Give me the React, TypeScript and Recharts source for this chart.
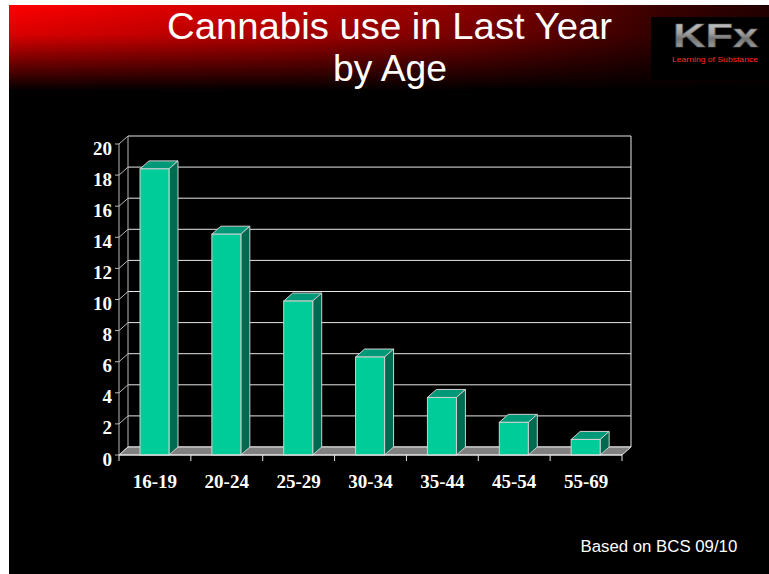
import React from 'react';
import { BarChart, Bar, XAxis, YAxis, CartesianGrid, ReferenceArea } from 'recharts';

const categories = ['16-19', '20-24', '25-29', '30-34', '35-44', '45-54', '55-69'];
const usage = [18.4, 14.2, 9.9, 6.3, 3.7, 2.1, 1.0];
const yTicks = [0, 2, 4, 6, 8, 10, 12, 14, 16, 18, 20];
const titleLine1 = 'Cannabis use in Last Year';
const titleLine2 = 'by Age';
const footnote = 'Based on BCS 09/10';

const data = categories.map((c, i) => ({ age: c, value: usage[i] }));

const DX = 9;
const DY = 8;
const FRONT = '#00CC99';
const TOP = '#009977';
const SIDE = '#006A50';
const EDGE = '#d0d0d0';
const GRID = '#e6e6e6';
const WALL = '#b8b8b8';
const SERIF = '"Liberation Serif", "Times New Roman", serif';
const SANS = '"Liberation Sans", Arial, sans-serif';

const Bar3D = (props: any) => {
  const { x, y, width: w, height: h } = props;
  if (h == null || w == null) return null;
  return (
    <g>
      <polygon
        points={`${x},${y} ${x + DX},${y - DY} ${x + w + DX},${y - DY} ${x + w},${y}`}
        fill={TOP}
        stroke={EDGE}
        strokeWidth={1}
      />
      <polygon
        points={`${x + w},${y} ${x + w + DX},${y - DY} ${x + w + DX},${y + h - DY} ${x + w},${y + h}`}
        fill={SIDE}
        stroke={EDGE}
        strokeWidth={1}
      />
      <rect x={x} y={y} width={w} height={h} fill={FRONT} stroke={EDGE} strokeWidth={1} />
    </g>
  );
};

const Walls = (props: any) => {
  const { x, y, width: w, height: h } = props;
  const b = y + h;
  return (
    <g>
      <line x1={x + DX} y1={y - DY} x2={x + DX} y2={b - DY} stroke={WALL} strokeWidth={1} />
      <line x1={x + w + DX} y1={y - DY} x2={x + w + DX} y2={b - DY} stroke={GRID} strokeWidth={1} />
      <polygon
        points={`${x},${b} ${x + w},${b} ${x + w + DX},${b - DY} ${x + DX},${b - DY}`}
        fill="#808080"
        stroke={GRID}
        strokeWidth={1}
      />
    </g>
  );
};

const GridLine = (props: any) => {
  const { x1, x2, y1 } = props;
  return (
    <g>
      <line x1={x1} y1={y1} x2={x1 + DX} y2={y1 - DY} stroke={WALL} strokeWidth={1} />
      <line x1={x1 + DX} y1={y1 - DY} x2={x2 + DX} y2={y1 - DY} stroke={GRID} strokeWidth={1} />
    </g>
  );
};

const XTick = (props: any) => {
  const { x, y, payload, index } = props;
  const half = payload && payload.offset ? payload.offset : 36;
  const last = index === categories.length - 1;
  return (
    <g>
      <line x1={x - half} y1={y} x2={x - half} y2={y + 6} stroke={GRID} strokeWidth={1} />
      {last && <line x1={x + half} y1={y} x2={x + half} y2={y + 6} stroke={GRID} strokeWidth={1} />}
      <text
        x={x}
        y={y + 33}
        textAnchor="middle"
        fill="#ffffff"
        fontFamily={SERIF}
        fontWeight={700}
        fontSize={19}
      >
        {payload.value}
      </text>
    </g>
  );
};

const YTick = (props: any) => {
  const { x, y, payload } = props;
  return (
    <text
      x={x}
      y={y + 10.5}
      textAnchor="end"
      fill="#ffffff"
      fontFamily={SERIF}
      fontWeight={700}
      fontSize={19}
    >
      {payload.value}
    </text>
  );
};

export default function App() {
  return (
    <div
      style={{
        position: 'absolute',
        left: 9,
        top: 5,
        width: 760,
        height: 569,
        background: '#000',
        overflow: 'hidden',
      }}
    >
      <div
        style={{
          position: 'absolute',
          left: 0,
          top: 0,
          width: 760,
          height: 86,
          background:
            'linear-gradient(to bottom, rgba(0,0,0,0) 0%, rgba(0,0,0,0.15) 35%, rgba(0,0,0,1) 100%), linear-gradient(to right, #ff0000 0%, #c80000 35%, #860000 62%, #3c0000 85%, #220000 100%)',
        }}
      />
      <svg width={760} height={90} style={{ position: 'absolute', left: 0, top: 0 }}>
        <defs>
          <linearGradient id="logoMetal" x1="0" y1="0" x2="0" y2="1">
            <stop offset="0%" stopColor="#d8d8d8" />
            <stop offset="45%" stopColor="#a0a0a0" />
            <stop offset="60%" stopColor="#747474" />
            <stop offset="100%" stopColor="#b8b8b8" />
          </linearGradient>
        </defs>
        <text
          x={380.5}
          y={33.5}
          textAnchor="middle"
          fill="#ffffff"
          fontFamily={SANS}
          fontSize={36}
          textLength={445}
          lengthAdjust="spacingAndGlyphs"
        >
          {titleLine1}
        </text>
        <text
          x={381}
          y={76}
          textAnchor="middle"
          fill="#ffffff"
          fontFamily={SANS}
          fontSize={36}
          textLength={114}
          lengthAdjust="spacingAndGlyphs"
        >
          {titleLine2}
        </text>
        <rect x={642} y={12} width={118} height={63} fill="#000" />
        <text
          x={664}
          y={41.5}
          fill="url(#logoMetal)"
          stroke="#606060"
          strokeWidth={0.6}
          fontFamily={SANS}
          fontWeight={700}
          fontSize={33}
          textLength={85}
          lengthAdjust="spacingAndGlyphs"
        >
          KFx
        </text>
        <text
          x={663}
          y={57}
          fill="#ff2a2a"
          fontFamily={SANS}
          fontSize={7}
          textLength={86}
          lengthAdjust="spacingAndGlyphs"
        >
          Learning of Substance
        </text>
      </svg>
      <div style={{ position: 'absolute', left: 0, top: 0 }}>
        <BarChart
          width={760}
          height={569}
          data={data}
          margin={{ top: 139, right: 147, bottom: 79, left: 50 }}
        >
          <CartesianGrid horizontal={GridLine} vertical={false} />
          <ReferenceArea y1={0} y2={20} shape={Walls} ifOverflow="visible" />
          <XAxis
            dataKey="age"
            height={40}
            axisLine={{ stroke: GRID, strokeWidth: 1 }}
            tickLine={false}
            tickSize={0}
            tickMargin={0}
            interval={0}
            tick={<XTick />}
          />
          <YAxis
            width={60}
            domain={[0, 20]}
            ticks={yTicks}
            type="number"
            interval={0}
            axisLine={{ stroke: WALL, strokeWidth: 1 }}
            tickLine={{ stroke: WALL, strokeWidth: 1 }}
            tickSize={4}
            tickMargin={3}
            tick={<YTick />}
          />
          <Bar dataKey="value" barSize={29} shape={<Bar3D />} isAnimationActive={false} />
        </BarChart>
      </div>
      <svg width={760} height={569} style={{ position: 'absolute', left: 0, top: 0, pointerEvents: 'none' }}>
        <text x={571.5} y={547} fill="#ffffff" fontFamily={SANS} fontSize={16.8}>
          {footnote}
        </text>
      </svg>
    </div>
  );
}
